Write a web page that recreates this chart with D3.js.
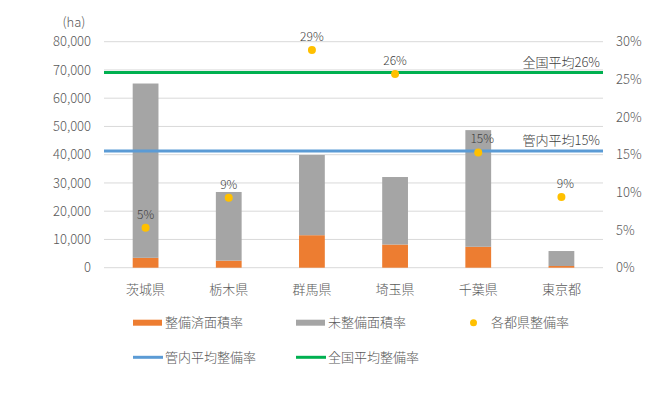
<!DOCTYPE html>
<html>
<head>
<meta charset="utf-8">
<script src="https://cdn.jsdelivr.net/npm/d3@7"></script>
<style>
  body { margin: 0; background: #fff; }
  text { font-family: "Noto Sans CJK JP", "Noto Sans", sans-serif; font-weight: 300; }
</style>
</head>
<body>
<script>
const width = 656;
const height = 409;

// data
const prefectures = ["茨城県", "栃木県", "群馬県", "埼玉県", "千葉県", "東京都"];
const doneArea = [3500, 2500, 11500, 8200, 7400, 600];        // 整備済面積 (ha)
const undoneArea = [61700, 24300, 28400, 23900, 41300, 5300]; // 未整備面積 (ha)
const rate = [5.3, 9.3, 28.9, 25.7, 15.3, 9.4];               // 各都県整備率 (%)
const rateLabels = ["5%", "9%", "29%", "26%", "15%", "9%"];
const regionAvg = 15.5;   // 管内平均
const nationAvg = 25.9;   // 全国平均
const leftTicks = [0, 10000, 20000, 30000, 40000, 50000, 60000, 70000, 80000];
const rightTicks = [0, 5, 10, 15, 20, 25, 30];

const colors = {
    done: "#ED7D31",
    undone: "#A5A5A5",
    rate: "#FFC000",
    region: "#5B9BD5",
    nation: "#00B050"
};

let svg = d3.select("body").append("svg").attr("width", width).attr("height", height);

const plotLeft = 104, plotRight = 603, plotTop = 41.7, plotBottom = 267.7;

let x = d3.scaleBand().domain(prefectures).range([plotLeft, plotRight])
    .paddingInner(0.69).paddingOuter(0.345);
let y = d3.scaleLinear().domain([0, 80000]).range([plotBottom, plotTop]);
let y2 = d3.scaleLinear().domain([0, 30]).range([plotBottom, plotTop]);

// gridlines
svg.append("g").selectAll("line")
    .data(leftTicks)
    .enter().append("line")
    .attr("x1", plotLeft).attr("x2", plotRight)
    .attr("y1", d => y(d)).attr("y2", d => y(d))
    .attr("stroke", "#d9d9d9").attr("stroke-width", 1);

// left axis
let leftAxis = svg.append("g")
    .attr("transform", `translate(${plotLeft},0)`)
    .call(d3.axisLeft(y).tickValues(leftTicks).tickSize(0).tickPadding(13).tickFormat(d3.format(",")));
leftAxis.select(".domain").remove();
leftAxis.selectAll("text").attr("fill", "#595959").style("font-size", "13px");

svg.append("text").attr("x", 74).attr("y", 27).attr("text-anchor", "middle")
    .attr("fill", "#595959").style("font-size", "13px").text("(ha)");

// right axis
let rightAxis = svg.append("g")
    .attr("transform", `translate(${plotRight},0)`)
    .call(d3.axisRight(y2).tickValues(rightTicks).tickSize(0).tickPadding(13).tickFormat(d => d + "%"));
rightAxis.select(".domain").remove();
rightAxis.selectAll("text").attr("fill", "#595959").style("font-size", "13px");

// category labels
svg.append("g").selectAll("text")
    .data(prefectures)
    .enter().append("text")
    .attr("x", d => x(d) + x.bandwidth() / 2)
    .attr("y", 294)
    .attr("text-anchor", "middle")
    .attr("fill", "#595959").style("font-size", "13px")
    .text(d => d);

// stacked bars
svg.append("g").selectAll("rect")
    .data(prefectures)
    .enter().append("rect")
    .attr("x", d => x(d))
    .attr("width", x.bandwidth())
    .attr("y", (d, i) => y(doneArea[i]))
    .attr("height", (d, i) => y(0) - y(doneArea[i]))
    .attr("fill", colors.done);

svg.append("g").selectAll("rect")
    .data(prefectures)
    .enter().append("rect")
    .attr("x", d => x(d))
    .attr("width", x.bandwidth())
    .attr("y", (d, i) => y(doneArea[i] + undoneArea[i]))
    .attr("height", (d, i) => y(doneArea[i]) - y(doneArea[i] + undoneArea[i]))
    .attr("fill", colors.undone);

// average lines
const avgLines = [
    { value: regionAvg, color: colors.region, label: "管内平均15%" },
    { value: nationAvg, color: colors.nation, label: "全国平均26%" }
];
svg.append("g").selectAll("line")
    .data(avgLines)
    .enter().append("line")
    .attr("x1", plotLeft).attr("x2", plotRight)
    .attr("y1", d => y2(d.value)).attr("y2", d => y2(d.value))
    .attr("stroke", d => d.color).attr("stroke-width", 3);

svg.append("g").selectAll("text")
    .data(avgLines)
    .enter().append("text")
    .attr("x", plotRight - 3)
    .attr("y", d => y2(d.value) - 6)
    .attr("text-anchor", "end")
    .attr("fill", "#404040").style("font-size", "13px")
    .text(d => d.label);

// rate dots
svg.append("g").selectAll("circle")
    .data(prefectures)
    .enter().append("circle")
    .attr("cx", d => x(d) + x.bandwidth() / 2)
    .attr("cy", (d, i) => y2(rate[i]))
    .attr("r", 4)
    .attr("fill", colors.rate);

svg.append("g").selectAll("text")
    .data(prefectures)
    .enter().append("text")
    .attr("x", (d, i) => x(d) + x.bandwidth() / 2 + (i >= 4 ? 4 : 0))
    .attr("y", (d, i) => y2(rate[i]) - 9)
    .attr("text-anchor", "middle")
    .attr("fill", "#404040").style("font-size", "12px")
    .text((d, i) => rateLabels[i]);

// legend
let legend = svg.append("g").style("font-size", "13px");
const legendItems = [
    { type: "rect", color: colors.done, label: "整備済面積率", x: 133, y: 322.7 },
    { type: "rect", color: colors.undone, label: "未整備面積率", x: 296, y: 322.7 },
    { type: "dot", color: colors.rate, label: "各都県整備率", x: 470, y: 322.7 },
    { type: "line", color: colors.region, label: "管内平均整備率", x: 133, y: 357.3 },
    { type: "line", color: colors.nation, label: "全国平均整備率", x: 296, y: 357.3 }
];
legendItems.forEach(item => {
    let g = legend.append("g").attr("transform", `translate(${item.x},${item.y})`);
    if (item.type === "rect") {
        g.append("rect").attr("x", 0).attr("y", -3).attr("width", 29).attr("height", 6).attr("fill", item.color);
        g.append("text").attr("x", 32).attr("y", 4.5).attr("fill", "#595959").text(item.label);
    } else if (item.type === "dot") {
        g.append("circle").attr("cx", 3.5).attr("cy", 0).attr("r", 3.5).attr("fill", item.color);
        g.append("text").attr("x", 21).attr("y", 4.5).attr("fill", "#595959").text(item.label);
    } else {
        g.append("line").attr("x1", 0).attr("x2", 30).attr("y1", 0).attr("y2", 0)
            .attr("stroke", item.color).attr("stroke-width", 3);
        g.append("text").attr("x", 32).attr("y", 4.5).attr("fill", "#595959").text(item.label);
    }
});
</script>
</body>
</html>
